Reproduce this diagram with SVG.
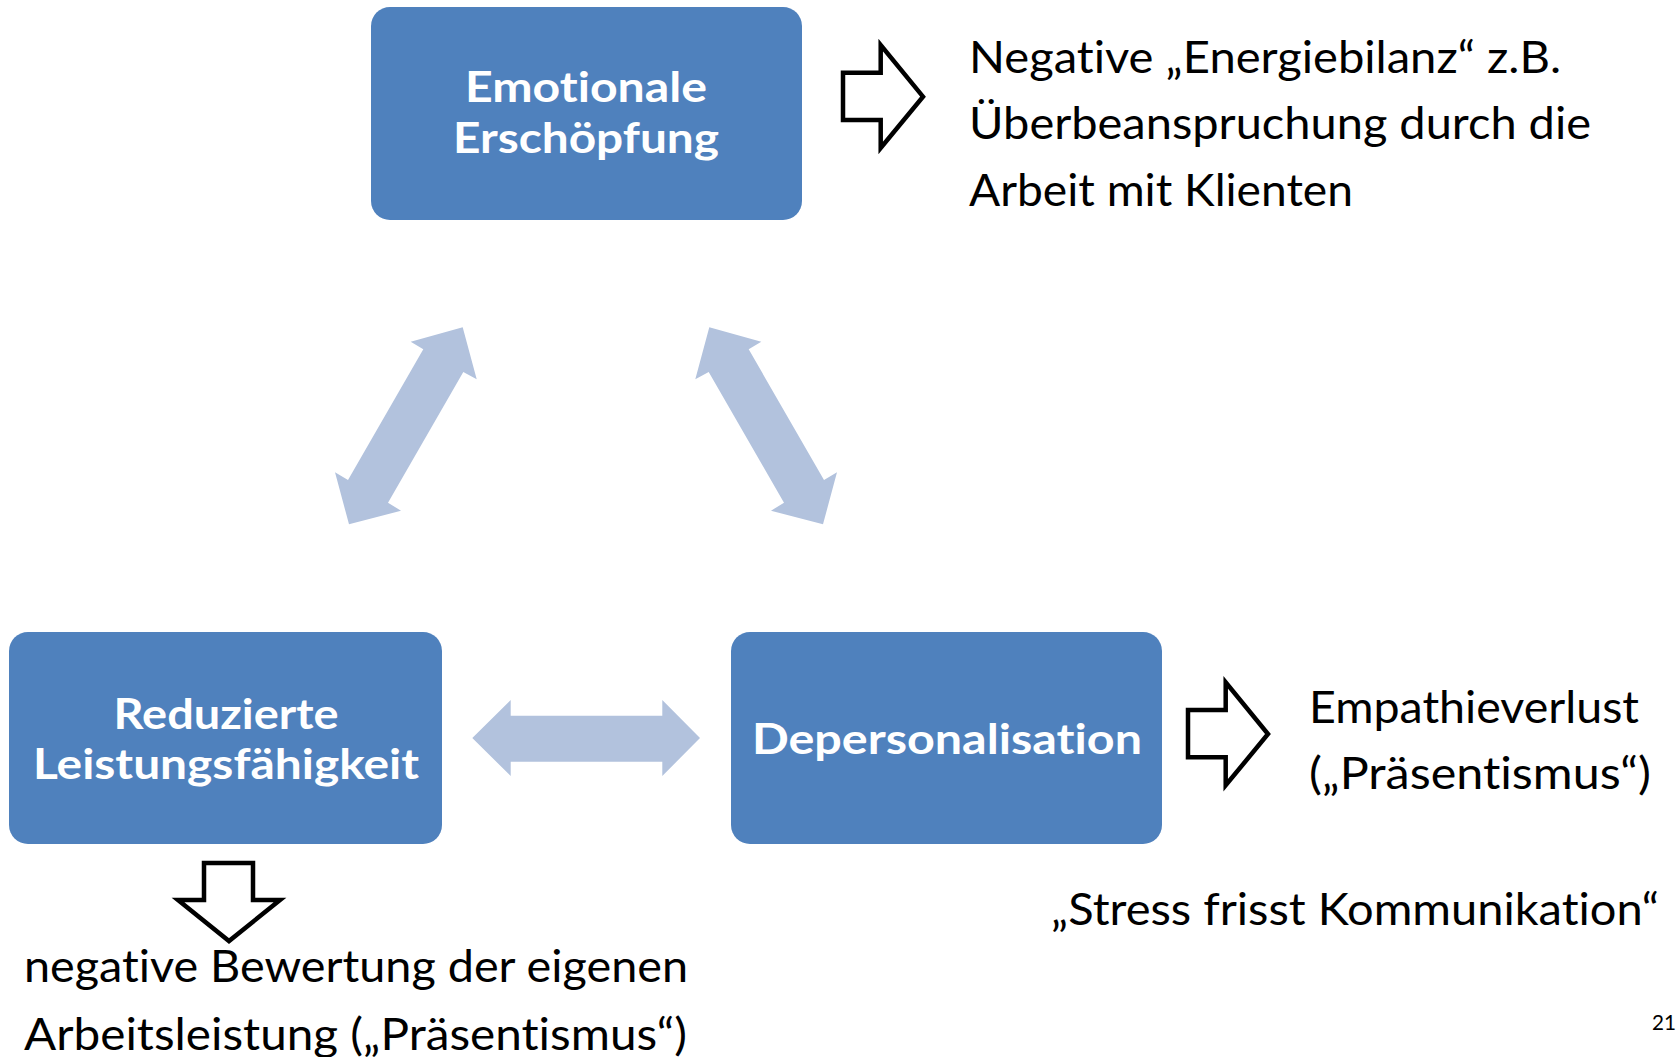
<svg xmlns="http://www.w3.org/2000/svg" width="1677" height="1057" viewBox="0 0 1677 1057">
<style>
.box{fill:#4F81BD;}
.bt{fill:#FFFFFF;font-family:Lato,"DejaVu Sans",sans-serif;font-weight:700;font-size:42px;text-anchor:middle;font-variant-ligatures:none;}
.tx{fill:#000000;font-family:Lato,"Liberation Sans",sans-serif;font-size:44px;font-variant-ligatures:none;}
.dbl{fill:#B2C2DD;}
.blk{fill:#FFFFFF;stroke:#000000;stroke-width:4.5;stroke-linejoin:miter;}
</style>
<rect width="1677" height="1057" fill="#FFFFFF"/>
<g id="connectors">
<polygon class="dbl" points="462.7,327.3 476.7,379.3 463.3,372 388,502.7 401,510.7 349,524.3 335,472.3 348,480 423.3,349.3 410.7,341.7"/>
<polygon class="dbl" points="709.3,327.3 695.3,379.3 708.7,372 784,502.7 771,510.7 823,524.3 837,472.3 824,480 748.7,349.3 761.3,341.7"/>
<polygon class="dbl" points="472.3,738 510.7,700 510.7,715.7 662.3,715.7 662.3,700 700,738 662.3,776 662.3,761.7 510.7,761.7 510.7,776"/>
<polygon class="blk" points="843,72.7 880.7,72.7 880.7,45 923,96.7 880.7,148 880.7,120 843,120"/>
<polygon class="blk" points="1188,710 1225.7,710 1225.7,682.3 1268,734 1225.7,785.3 1225.7,757.3 1188,757.3"/>
<polygon class="blk" points="204,863 253,863 253,900 280,900 229,941 178,900 204,900"/>
</g>
<g id="node-emotionale">
<rect class="box" x="371" y="7" width="431" height="213" rx="19"/>
<text class="bt" x="586" y="102" textLength="242" lengthAdjust="spacingAndGlyphs">Emotionale</text>
<text class="bt" x="586" y="153" textLength="266" lengthAdjust="spacingAndGlyphs">Erschöpfung</text>
</g>
<g id="node-reduzierte">
<rect class="box" x="9" y="632" width="433" height="212" rx="19"/>
<text class="bt" x="226" y="729" textLength="225" lengthAdjust="spacingAndGlyphs">Reduzierte</text>
<text class="bt" x="226" y="779" textLength="386" lengthAdjust="spacingAndGlyphs">Leistungsfähigkeit</text>
</g>
<g id="node-depersonalisation">
<rect class="box" x="731" y="632" width="431" height="212" rx="19"/>
<text class="bt" x="947" y="754" textLength="390" lengthAdjust="spacingAndGlyphs">Depersonalisation</text>
</g>
<g id="text-energie">
<text class="tx" x="969" y="73" textLength="592" lengthAdjust="spacingAndGlyphs">Negative „Energiebilanz“ z.B.</text>
<text class="tx" x="969" y="139" textLength="622" lengthAdjust="spacingAndGlyphs">Überbeanspruchung durch die</text>
<text class="tx" x="969" y="206" textLength="384" lengthAdjust="spacingAndGlyphs">Arbeit mit Klienten</text>
</g>
<g id="text-empathie">
<text class="tx" x="1309" y="723" textLength="330" lengthAdjust="spacingAndGlyphs">Empathieverlust</text>
<text class="tx" x="1309" y="789" textLength="342" lengthAdjust="spacingAndGlyphs">(„Präsentismus“)</text>
</g>
<g id="text-stress">
<text class="tx" x="1051" y="925" textLength="608" lengthAdjust="spacingAndGlyphs">„Stress frisst Kommunikation“</text>
</g>
<g id="text-bewertung">
<text class="tx" x="24" y="982" textLength="664" lengthAdjust="spacingAndGlyphs">negative Bewertung der eigenen</text>
<text class="tx" x="24" y="1050" textLength="663" lengthAdjust="spacingAndGlyphs">Arbeitsleistung („Präsentismus“)</text>
</g>
<g id="page-number">
<text class="tx" x="1652" y="1030" style="font-size:22px" textLength="24" lengthAdjust="spacingAndGlyphs">21</text>
</g>
</svg>
